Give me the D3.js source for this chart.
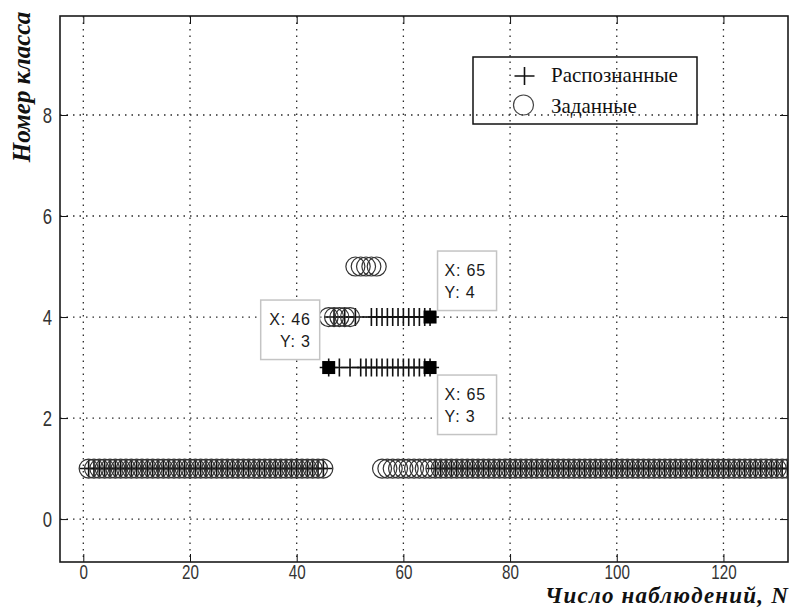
<!DOCTYPE html>
<html>
<head>
<meta charset="utf-8">
<script src="https://cdn.jsdelivr.net/npm/d3@7"></script>
<style>
  body { margin: 0; background: #fff; }
  svg { display: block; }
</style>
</head>
<body>
<script>
// tick values
const xTicks = [0, 20, 40, 60, 80, 100, 120];
const yTicks = [0, 2, 4, 6, 8];

// given class for observation 1..132 ("Заданные")
const givenClass = [
  1,1,1,1,1,1,1,1,1,1,1,1,1,1,1,1,1,1,1,1,
  1,1,1,1,1,1,1,1,1,1,1,1,1,1,1,1,1,1,1,1,
  1,1,1,1,1,4,4,4,4,4,5,5,5,5,5,1,1,1,1,1,
  1,1,1,1,1,1,1,1,1,1,1,1,1,1,1,1,1,1,1,1,
  1,1,1,1,1,1,1,1,1,1,1,1,1,1,1,1,1,1,1,1,
  1,1,1,1,1,1,1,1,1,1,1,1,1,1,1,1,1,1,1,1,
  1,1,1,1,1,1,1,1,1,1,1,1
];

// recognized class for observation 1..132 ("Распознанные")
const recognizedClass = [
  1,1,1,1,1,1,1,1,1,1,1,1,1,1,1,1,1,1,1,1,
  1,1,1,1,1,1,1,1,1,1,1,1,1,1,1,1,1,1,1,1,
  1,1,1,1,1,3,4,3,4,3,4,3,3,3,3,3,3,3,3,3,
  3,3,3,3,3,1,1,1,1,1,1,1,1,1,1,1,1,1,1,1,
  1,1,1,1,1,1,1,1,1,1,1,1,1,1,1,1,1,1,1,1,
  1,1,1,1,1,1,1,1,1,1,1,1,1,1,1,1,1,1,1,1,
  1,1,1,1,1,1,1,1,1,1,1,1
];
// second recognized output seen on row 4
const recognizedExtraN = [54, 55, 56, 57, 58, 59, 60, 61, 62, 63, 64, 65];
const recognizedExtraClass = [4, 4, 4, 4, 4, 4, 4, 4, 4, 4, 4, 4];

// data tips
const tipX = [46, 65, 65];
const tipY = [3, 4, 3];

const legendLabels = ["Распознанные", "Заданные"];
const xLabel = "Число наблюдений, N";
const yLabel = "Номер класса";

const width = 795, height = 610;
const mLeft = 60, mRight = 788, mTop = 16, mBottom = 562;

const svg = d3.select("body").append("svg")
  .attr("width", width)
  .attr("height", height);

const x = d3.scaleLinear().domain([-4.37, 132.1]).range([mLeft, mRight]);
const y = d3.scaleLinear().domain([-0.85, 9.96]).range([mBottom, mTop]);

svg.append("defs").append("clipPath").attr("id", "plot")
  .append("rect")
  .attr("x", mLeft).attr("y", mTop)
  .attr("width", mRight - mLeft).attr("height", mBottom - mTop);

// dotted grid
const grid = svg.append("g")
  .attr("stroke", "#2a2a2a")
  .attr("stroke-width", 1.3)
  .attr("stroke-dasharray", "1.5,5");

grid.selectAll(".gx").data(xTicks).join("line")
  .attr("x1", d => x(d)).attr("x2", d => x(d))
  .attr("y1", mTop).attr("y2", mBottom);

grid.selectAll(".gy").data(yTicks).join("line")
  .attr("x1", mLeft).attr("x2", mRight)
  .attr("y1", d => y(d)).attr("y2", d => y(d));

// axes, ticks inside on all four sides
const tickFont = "'Liberation Sans', Arial, sans-serif";
const squeeze = 0.76;

const axB = svg.append("g")
  .attr("transform", `translate(0,${mBottom})`)
  .call(d3.axisBottom(x).tickValues(xTicks).tickSizeInner(-8).tickSizeOuter(0).tickPadding(3));
axB.select(".domain").remove();
axB.attr("font-size", 20).attr("font-family", tickFont).attr("color", "#111");
axB.selectAll("text").attr("fill", "#333").attr("transform", `scale(${squeeze},1)`);

const axL = svg.append("g")
  .attr("transform", `translate(${mLeft},0)`)
  .call(d3.axisLeft(y).tickValues(yTicks).tickSizeInner(-8).tickSizeOuter(0));
axL.select(".domain").remove();
axL.attr("font-size", 22).attr("font-family", tickFont).attr("color", "#111");
axL.selectAll("text").attr("fill", "#333").attr("x", -8 / squeeze).attr("transform", `scale(${squeeze},1)`);

const axT = svg.append("g")
  .attr("transform", `translate(0,${mTop})`)
  .call(d3.axisTop(x).tickValues(xTicks).tickSizeInner(-8).tickSizeOuter(0).tickFormat(""));
axT.select(".domain").remove();
axT.attr("color", "#111");

const axR = svg.append("g")
  .attr("transform", `translate(${mRight},0)`)
  .call(d3.axisRight(y).tickValues(yTicks).tickSizeInner(-8).tickSizeOuter(0).tickFormat(""));
axR.select(".domain").remove();
axR.attr("color", "#111");

svg.append("rect")
  .attr("x", mLeft).attr("y", mTop)
  .attr("width", mRight - mLeft).attr("height", mBottom - mTop)
  .attr("fill", "none")
  .attr("stroke", "#1a1a1a")
  .attr("stroke-width", 1.6);

// data
const plusPath = "M-9,0H9M0,-9V9";
const plot = svg.append("g").attr("clip-path", "url(#plot)");

const recognized = recognizedClass.map((c, i) => ({ n: i + 1, c }))
  .concat(recognizedExtraN.map((n, i) => ({ n, c: recognizedExtraClass[i] })));

plot.append("g")
  .attr("fill", "none")
  .attr("stroke", "#111")
  .attr("stroke-width", 1.6)
  .selectAll("path")
  .data(recognized)
  .join("path")
  .attr("transform", d => `translate(${x(d.n)},${y(d.c)})`)
  .attr("d", plusPath);

plot.append("g")
  .attr("fill", "none")
  .attr("stroke", "#333")
  .attr("stroke-width", 1.2)
  .selectAll("circle")
  .data(givenClass.map((c, i) => ({ n: i + 1, c })))
  .join("circle")
  .attr("cx", d => x(d.n))
  .attr("cy", d => y(d.c))
  .attr("r", 9.5);

// data tip markers
const tips = tipX.map((v, i) => ({ x: v, y: tipY[i] }));
plot.append("g")
  .selectAll("rect")
  .data(tips)
  .join("rect")
  .attr("x", d => x(d.x) - 6.5)
  .attr("y", d => y(d.y) - 6.5)
  .attr("width", 13).attr("height", 13)
  .attr("fill", "#000");

// data tip boxes: offset from the point and text alignment
const tipPlace = [
  { dx: -68, dy: -67.5, align: "end" },
  { dx: 7.5, dy: -66, align: "start" },
  { dx: 7.5, dy: 7.5, align: "start" }
];
const boxW = 59, boxH = 59.5;

const tipG = svg.append("g")
  .attr("font-family", tickFont)
  .attr("font-size", 16)
  .attr("letter-spacing", 0.8)
  .attr("fill", "#1a1a1a")
  .selectAll("g")
  .data(tips)
  .join("g")
  .attr("transform", (d, i) => `translate(${x(d.x) + tipPlace[i].dx},${y(d.y) + tipPlace[i].dy})`);

tipG.append("rect")
  .attr("width", boxW).attr("height", boxH)
  .attr("fill", "#fff")
  .attr("stroke", "#c4c4c4")
  .attr("stroke-width", 1.5);

tipG.append("text")
  .attr("x", (d, i) => tipPlace[i].align === "end" ? boxW - 9 : 7)
  .attr("y", 25)
  .attr("text-anchor", (d, i) => tipPlace[i].align)
  .text(d => `X: ${d.x}`);

tipG.append("text")
  .attr("x", (d, i) => tipPlace[i].align === "end" ? boxW - 9 : 7)
  .attr("y", 47)
  .attr("text-anchor", (d, i) => tipPlace[i].align)
  .text(d => `Y: ${d.y}`);

// legend
const legend = svg.append("g").attr("transform", "translate(473,57)");
legend.append("rect")
  .attr("width", 224).attr("height", 67)
  .attr("fill", "none")
  .attr("stroke", "#111")
  .attr("stroke-width", 1.5);

legend.append("path")
  .attr("transform", "translate(51.5,19)")
  .attr("d", "M-10,0H10M0,-9V9")
  .attr("fill", "none")
  .attr("stroke", "#111")
  .attr("stroke-width", 1.6);

legend.append("circle")
  .attr("cx", 50.5).attr("cy", 48)
  .attr("r", 10)
  .attr("fill", "none")
  .attr("stroke", "#444")
  .attr("stroke-width", 1.2);

legend.selectAll("text")
  .data(legendLabels)
  .join("text")
  .attr("x", 78)
  .attr("y", (d, i) => 25 + i * 31)
  .attr("font-family", "'Liberation Serif', 'Times New Roman', serif")
  .attr("font-size", 21)
  .attr("fill", "#111")
  .text(d => d);

// axis labels
const labelFont = "'Liberation Serif', 'Times New Roman', serif";
svg.append("text")
  .attr("x", 789).attr("y", 603)
  .attr("text-anchor", "end")
  .attr("font-family", labelFont)
  .attr("font-style", "italic")
  .attr("font-weight", "bold")
  .attr("font-size", 23)
  .attr("letter-spacing", 1.2)
  .attr("fill", "#111")
  .text(xLabel);

svg.append("text")
  .attr("transform", "translate(30,87) rotate(-90)")
  .attr("text-anchor", "middle")
  .attr("font-family", labelFont)
  .attr("font-style", "italic")
  .attr("font-weight", "bold")
  .attr("font-size", 25)
  .attr("fill", "#111")
  .text(yLabel);
</script>
</body>
</html>
